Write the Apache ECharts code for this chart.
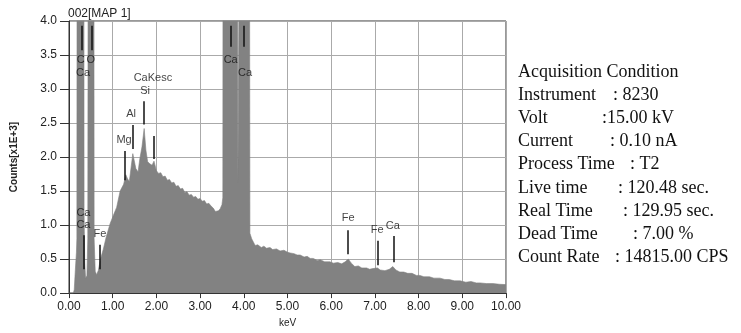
<!DOCTYPE html>
<html>
<head>
<meta charset="utf-8">
<script src="https://cdn.jsdelivr.net/npm/echarts@6/dist/echarts.min.js"></script>
<style>
  html, body { margin: 0; padding: 0; background: #fff; }
  #eds-spectrum { width: 741px; height: 333px; }
</style>
</head>
<body>
<div id="eds-spectrum"></div>
<script>
// spectrum (keV, counts x1E+3); peaks above 4.0 are off scale
var specKeV = [0.00, 0.10, 0.12, 0.145, 0.17, 0.18, 0.185, 0.34, 0.345, 0.36, 0.38, 0.41, 0.43, 0.44, 0.57, 0.575, 0.60, 0.63,
    0.67, 0.72, 0.785, 0.85, 0.94, 1.02, 1.09, 1.17, 1.21, 1.25, 1.30, 1.34, 1.38, 1.40, 1.46, 1.53, 1.58,
    1.62, 1.67, 1.72, 1.76, 1.80, 1.85, 1.90, 1.945, 2.00, 2.05, 2.10, 2.15, 2.20, 2.25, 2.30, 2.35, 2.40,
    2.45, 2.50, 2.55, 2.60, 2.65, 2.70, 2.75, 2.80, 2.85, 2.90, 2.95, 3.00, 3.05, 3.10, 3.15, 3.20, 3.25,
    3.30, 3.35, 3.38, 3.42, 3.46, 3.50, 3.52, 3.525, 3.855, 3.865, 3.895, 3.905, 4.13, 4.14, 4.18, 4.26,
    4.32, 4.40, 4.46, 4.52, 4.60, 4.66, 4.75, 4.83, 4.92, 5.00, 5.06, 5.15, 5.22, 5.29, 5.38, 5.45, 5.52,
    5.59, 5.68, 5.75, 5.85, 5.97, 6.05, 6.15, 6.24, 6.32, 6.39, 6.46, 6.54, 6.62, 6.70, 6.81, 6.88, 6.95,
    7.06, 7.12, 7.23, 7.33, 7.41, 7.48, 7.57, 7.66, 7.75, 7.85, 7.95, 8.03, 8.12, 8.25, 8.35, 8.49, 8.60,
    8.70, 8.82, 8.95, 9.08, 9.20, 9.32, 9.41, 9.55, 9.70, 9.85, 10.00];
var specCounts = [0.00, 0.00, 0.05, 0.34, 0.60, 0.80, 6.00, 6.00, 1.20, 0.45, 0.22, 0.26, 0.80, 6.00, 6.00, 0.80, 0.32, 0.27,
    0.33, 0.50, 0.645, 0.82, 1.02, 1.15, 1.26, 1.50, 1.52, 1.60, 1.74, 1.68, 1.64, 1.74, 2.05, 1.83, 1.78,
    1.97, 2.15, 2.42, 2.10, 1.93, 1.90, 1.88, 1.94, 1.80, 1.76, 1.77, 1.71, 1.72, 1.66, 1.67, 1.62, 1.63,
    1.57, 1.58, 1.53, 1.54, 1.48, 1.49, 1.44, 1.45, 1.41, 1.42, 1.38, 1.39, 1.35, 1.36, 1.31, 1.32, 1.28,
    1.25, 1.20, 1.18, 1.21, 1.24, 1.30, 1.40, 6.00, 6.00, 1.62, 1.62, 6.00, 6.00, 0.88, 0.80, 0.70,
    0.71, 0.67, 0.69, 0.66, 0.67, 0.64, 0.65, 0.62, 0.63, 0.60, 0.59, 0.58, 0.56, 0.56, 0.53, 0.54, 0.51,
    0.51, 0.48, 0.49, 0.46, 0.46, 0.44, 0.45, 0.43, 0.46, 0.50, 0.44, 0.39, 0.40, 0.37, 0.37, 0.35, 0.36,
    0.37, 0.34, 0.33, 0.35, 0.39, 0.34, 0.31, 0.31, 0.29, 0.29, 0.26, 0.26, 0.24, 0.24, 0.22, 0.22, 0.20,
    0.20, 0.18, 0.18, 0.16, 0.17, 0.15, 0.15, 0.14, 0.14, 0.13, 0.125];

// element marker lines
var markKeV = [0.29, 0.52, 0.34, 0.71, 1.27, 1.47, 1.72, 1.93, 3.69, 4.01, 6.39, 7.06, 7.42];
var markTop = [3.93, 3.93, 0.85, 0.71, 2.09, 2.47, 2.82, 2.31, 3.93, 3.93, 0.925, 0.77, 0.84];
var markBottom = [3.57, 3.57, 0.35, 0.35, 1.66, 2.12, 2.48, 1.97, 3.62, 3.62, 0.57, 0.41, 0.455];

// element labels
var labelText = ['C', 'O', 'Ca', 'Mg', 'Al', 'CaKesc', 'Si', 'Ca', 'Ca', 'Fe', 'Ca', 'Ca', 'Fe', 'Fe', 'Ca'];
var labelKeV = [0.27, 0.50, 0.32, 1.26, 1.42, 1.92, 1.74, 0.33, 0.33, 0.71, 3.70, 4.03, 6.39, 7.05, 7.41];
var labelCounts = [3.43, 3.43, 3.23, 2.25, 2.63, 3.16, 2.975, 1.18, 1.00, 0.87, 3.42, 3.23, 1.10, 0.925, 0.98];

var xTicks = [0, 1, 2, 3, 4, 5, 6, 7, 8, 9, 10];
var yTicks = [0, 0.5, 1, 1.5, 2, 2.5, 3, 3.5, 4];

var infoTitle = 'Acquisition Condition';
var infoNames = ['Instrument', 'Volt', 'Current', 'Process Time', 'Live time', 'Real Time', 'Dead Time', 'Count Rate'];
var infoValues = [': 8230', ':15.00 kV', ': 0.10 nA', ': T2', ': 120.48 sec.', ': 129.95 sec.', ': 7.00 %', ': 14815.00 CPS'];

var chart = echarts.init(document.getElementById('eds-spectrum'));

var spectrum = specKeV.map(function (k, i) { return [k, specCounts[i]]; });
var markLines = markKeV.map(function (k, i) {
    return [{ coord: [k, markTop[i]] }, { coord: [k, markBottom[i]] }];
});
var labels = labelText.map(function (t, i) {
    return { value: [labelKeV[i], labelCounts[i]], name: t };
});

// info panel on the right
var colonX = [613, 602, 610, 630, 618, 623, 633, 615];
var infoGraphic = [{
    type: 'text', left: 518, top: 63,
    style: { text: infoTitle, font: '18px "Liberation Serif"', fill: '#111' }
}];
infoNames.forEach(function (n, i) {
    var y = 86 + i * 23.2;
    infoGraphic.push({ type: 'text', left: 518, top: y,
        style: { text: n, font: '18px "Liberation Serif"', fill: '#111' } });
    infoGraphic.push({ type: 'text', left: colonX[i], top: y,
        style: { text: infoValues[i], font: '18px "Liberation Serif"', fill: '#111' } });
});
infoGraphic.push({
    type: 'text', left: 68, top: 8,
    style: { text: '002[MAP 1]', font: '12px "Liberation Sans"', fill: '#222', backgroundColor: '#fff' },
    z: 100
});

var option = {
    animation: false,
    backgroundColor: '#fff',
    grid: {
        left: 69, right: 235, top: 21, bottom: 31,
        show: true, borderColor: '#333', borderWidth: 1
    },
    xAxis: {
        type: 'value', min: 0, max: 10, interval: 1,
        name: 'keV', nameLocation: 'middle', nameGap: 23,
        nameTextStyle: { fontFamily: 'Liberation Sans', fontSize: 10, color: '#222' },
        axisLine: { lineStyle: { color: '#333', width: 1 } },
        axisTick: { length: 5, lineStyle: { color: '#333' } },
        axisLabel: {
            margin: 8, color: '#222', fontFamily: 'Liberation Sans', fontSize: 12,
            formatter: function (v) { return xTicks.indexOf(v) >= 0 ? v.toFixed(2) : ''; }
        },
        splitLine: { lineStyle: { color: '#aaa', width: 1 } }
    },
    yAxis: {
        type: 'value', min: 0, max: 4, interval: 0.5,
        name: 'Counts[x1E+3]', nameLocation: 'middle', nameGap: 50, nameRotate: 90,
        nameTextStyle: { fontFamily: 'Liberation Sans', fontSize: 10, fontWeight: 'bold', color: '#222' },
        axisLine: { show: true, lineStyle: { color: '#333', width: 1 } },
        axisTick: { show: true, length: 9, lineStyle: { color: '#333' } },
        axisLabel: {
            margin: 12, color: '#222', fontFamily: 'Liberation Sans', fontSize: 12,
            formatter: function (v) { return yTicks.indexOf(v) >= 0 ? v.toFixed(1) : ''; }
        },
        splitLine: { lineStyle: { color: '#aaa', width: 1 } }
    },
    graphic: infoGraphic,
    series: [
        {
            name: 'spectrum',
            type: 'line',
            data: spectrum,
            symbol: 'none',
            clip: true,
            lineStyle: { color: '#828282', width: 0.6 },
            areaStyle: { color: '#828282', opacity: 1 },
            z: 2,
            markLine: {
                silent: true,
                symbol: ['none', 'none'],
                label: { show: false },
                lineStyle: { color: '#111', width: 1.5, type: 'solid' },
                data: markLines
            }
        },
        {
            name: 'labels',
            type: 'scatter',
            data: labels,
            symbolSize: 1,
            itemStyle: { color: 'transparent' },
            label: {
                show: true, position: 'inside',
                formatter: function (p) { return p.name; },
                fontFamily: 'Liberation Sans', fontSize: 11, color: '#111'
            },
            z: 5
        }
    ]
};

chart.setOption(option);
</script>
</body>
</html>
